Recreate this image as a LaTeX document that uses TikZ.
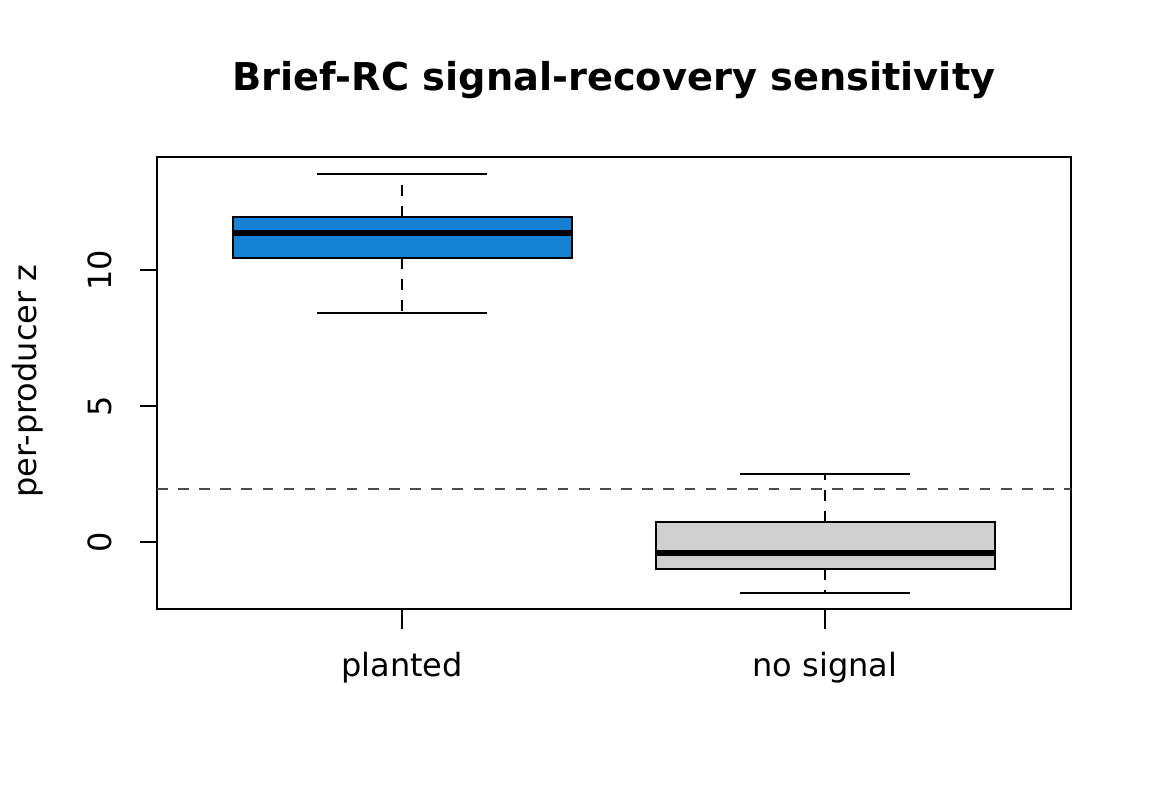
\documentclass[tikz,border=0pt]{standalone}
\usepackage{fontspec}
\setmainfont{DejaVu Sans}
\usetikzlibrary{positioning}
\definecolor{plantblue}{RGB}{22,130,214}
\definecolor{nullgrey}{RGB}{207,207,207}
\tikzset{
  boxbody/.style={draw=black, line width=0.5pt},
  medline/.style={line width=1.6pt},
  whisk/.style={dashed, line width=0.5pt},
  lbl/.style={font=\fontsize{9.1}{10}\selectfont, inner sep=0pt},
}
\begin{document}
\begin{tikzpicture}[x=0.01cm, y=-0.01cm]
  \useasboundingbox (0,0) rectangle (1152,806);
  % Titel
  \node[font=\bfseries\fontsize{10.9}{12}\selectfont, inner sep=0pt] (title) at (614,80) {Brief-RC signal-recovery sensitivity};
  % Rahmen
  \draw[line width=0.5pt] (157,157) rectangle (1071,609);
  % Referenzlinie
  \coordinate (refL) at (157,489);
  \coordinate (refR) at (1071,489);
  \draw[dashed, gray!60!black, line width=0.4pt] (refL) -- (refR);
  % Boxen
  \draw[boxbody, fill=plantblue] (233,217) rectangle (572,258);
  \draw[medline] (233,233) -- (572,233);
  \draw[whisk] (402,217) -- (402,174);
  \draw[whisk] (402,258) -- (402,313);
  \draw (317,174) -- (487,174);
  \draw (317,313) -- (487,313);
  \draw[boxbody, fill=nullgrey] (656,522) rectangle (995,569);
  \draw[medline] (656,553) -- (995,553);
  \draw[whisk] (825,522) -- (825,474);
  \draw[whisk] (825,569) -- (825,593);
  \draw (740,474) -- (910,474);
  \draw (740,593) -- (910,593);
  % Achsen
  \foreach \xx/\name/\txt in {402/planted/planted, 825/nosig/no signal} {
    \draw (\xx,609) -- (\xx,629);
    \node[lbl] (\name) at (\xx,668) {\txt};
  }
  \foreach \yy/\val in {270/10, 406/5, 542/0} {
    \draw (157,\yy) -- (140,\yy);
    \node[lbl, rotate=90] (y\val) at (100,\yy) {\val};
  }
  \node[lbl, rotate=90] (ylab) at (28,381) {per-producer z};
\end{tikzpicture}
\end{document}
